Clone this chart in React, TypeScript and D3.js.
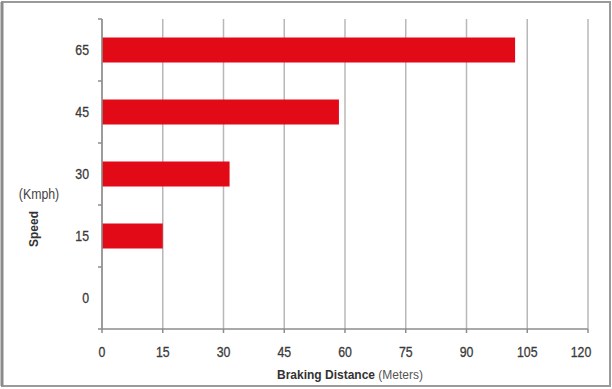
import React from "react";
import * as d3 from "d3";

const speeds = ["65", "45", "30", "15", "0"];
const distances = [102, 58.5, 31.5, 15, 0];
const xTicks = [0, 15, 30, 45, 60, 75, 90, 105, 120];

const W = 612;
const H = 389;
const margin = { left: 102, right: 24, top: 19, bottom: 60 };

export default function App() {
  const x = d3.scaleLinear().domain([0, 120]).range([margin.left, W - margin.right]);
  const y0 = margin.top;
  const y1 = H - margin.bottom;
  const y = d3.scaleBand<string>().domain(speeds).range([y0, y1]);
  const bandEdges = speeds.map((s) => y(s) as number).concat([y1]);
  const barH = 25;
  const font = "'Liberation Sans Narrow', 'Arial Narrow', 'Liberation Sans', sans-serif";
  const sx = 0.88;

  return (
    <svg
      width={W}
      height={H}
      style={{ position: "absolute", left: 0, top: 0, background: "#fff" }}
    >
      <rect x={2} y={2} width={W - 4} height={H - 5} fill="#fff" stroke="#9a9a9a" strokeWidth={2} />
      <line x1={2} x2={2} y1={2} y2={H - 3} stroke="#8a8a8a" strokeWidth={3} />
      {xTicks.map((t) => (
        <line key={"g" + t} x1={x(t)} x2={x(t)} y1={y0} y2={y1} stroke="#b8b8b8" strokeWidth={1.5} />
      ))}
      {speeds.map((s, i) => (
        <rect
          key={s}
          x={x(0)}
          y={(y(s) as number) + y.bandwidth() / 2 - barH / 2}
          width={x(distances[i]) - x(0)}
          height={barH}
          fill="#e20a17"
        />
      ))}
      <line x1={x(0)} x2={x(0)} y1={y0} y2={y1} stroke="#8c8c8c" strokeWidth={1.5} />
      <line x1={x(0)} x2={x(120)} y1={y1} y2={y1} stroke="#8c8c8c" strokeWidth={1.5} />
      {bandEdges.map((e, i) => (
        <line key={"yt" + i} x1={x(0) - 4} x2={x(0)} y1={e} y2={e} stroke="#8c8c8c" strokeWidth={1.5} />
      ))}
      {xTicks.map((t) => (
        <line key={"xt" + t} x1={x(t)} x2={x(t)} y1={y1} y2={y1 + 4} stroke="#8c8c8c" strokeWidth={1.5} />
      ))}
      {speeds.map((s) => (
        <text
          key={"yl" + s}
          transform={`translate(89, ${(y(s) as number) + y.bandwidth() / 2}) scale(${sx},1)`}
          textAnchor="end"
          dominantBaseline="central"
          fontFamily={font}
          fontSize={14}
          fill="#3a3a3a"
          stroke="#3a3a3a"
          strokeWidth={0.3}
        >
          {s}
        </text>
      ))}
      {xTicks.map((t) => (
        <text
          key={"xl" + t}
          transform={`translate(${t === 120 ? x(t) - 7 : x(t)}, 352) scale(${sx},1)`}
          textAnchor="middle"
          dominantBaseline="central"
          fontFamily={font}
          fontSize={14}
          fill="#3a3a3a"
          stroke="#3a3a3a"
          strokeWidth={0.3}
        >
          {t}
        </text>
      ))}
      <text
        transform={`translate(34, 229) rotate(-90)`}
        textAnchor="middle"
        dominantBaseline="central"
        fontFamily={font}
        fontSize={12}
        fontWeight="bold"
        fill="#333"
      >
        Speed
      </text>
      <text
        transform={`translate(39, 194) scale(${sx},1)`}
        textAnchor="middle"
        dominantBaseline="central"
        fontFamily={font}
        fontSize={14}
        fill="#444"
      >
        (Kmph)
      </text>
      <text
        x={350}
        y={375}
        textAnchor="middle"
        dominantBaseline="central"
        fontFamily={font}
        fontSize={12}
        fill="#333"
      >
        <tspan fontWeight="bold">Braking Distance</tspan>
        <tspan fill="#555"> (Meters)</tspan>
      </text>
    </svg>
  );
}
